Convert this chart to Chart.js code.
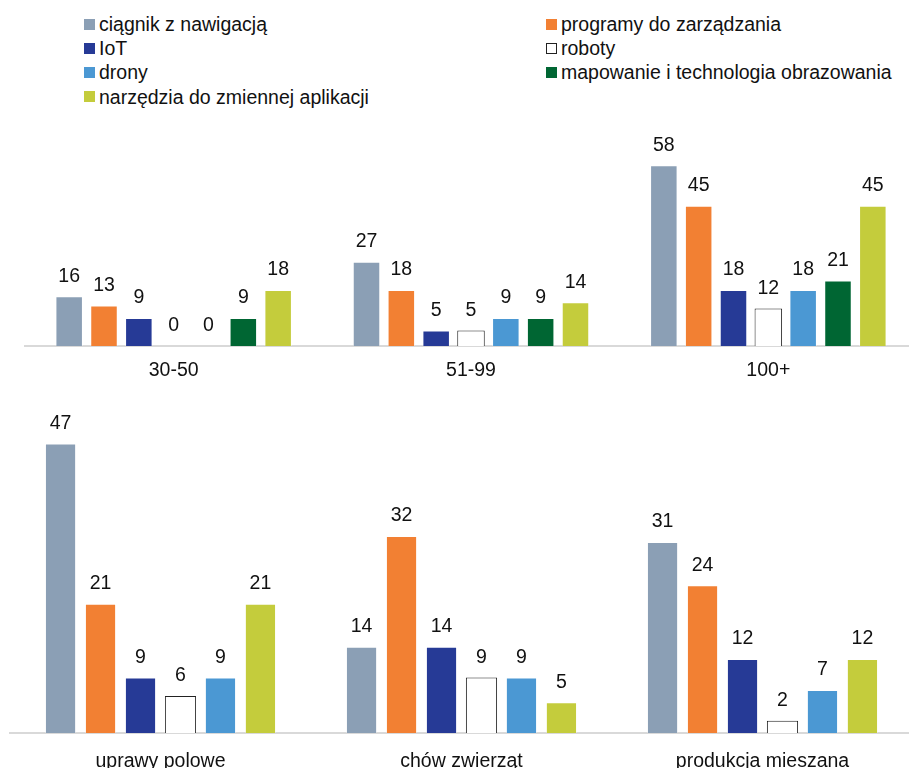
<!DOCTYPE html>
<html lang="pl">
<head>
  <meta charset="UTF-8">
  <title>Technologie w gospodarstwach</title>
  <script src="https://cdn.jsdelivr.net/npm/chart.js"></script>
  <style>
    body {
      margin: 0;
      background: #fff;
      overflow: hidden;
      font-family: 'Liberation Sans', Arial, sans-serif;
    }
    #legend { position: absolute; left: 0; top: 0; width: 909px; height: 110px; }
    .item {
      position: absolute;
      font-size: 19.5px;
      line-height: 22px;
      color: #111;
      white-space: nowrap;
      display: flex;
      align-items: center;
    }
    .box { width: 11px; height: 11px; margin-right: 4px; box-sizing: border-box; }
    #topChart { position: absolute; left: 0; top: 110px; }
    #bottomChart { position: absolute; left: 0; top: 390px; }
  </style>
</head>
<body>
  <div id="legend"></div>
  <canvas id="topChart" width="925" height="280"></canvas>
  <canvas id="bottomChart" width="920" height="378"></canvas>

  <script>
    // serie
    const seriesNames = ['ciągnik z nawigacją', 'programy do zarządzania', 'IoT', 'roboty', 'drony',
      'mapowanie i technologia obrazowania', 'narzędzia do zmiennej aplikacji'];
    const seriesColors = ['#8b9fb5', '#f28033', '#263a96', '#ffffff', '#4b98d3', '#006633', '#c4cc3c'];

    // górny wykres: wielkość gospodarstwa
    const sizeLabels = ['30-50', '51-99', '100+'];
    const sizeCiagnik = [16, 27, 58];
    const sizeProgramy = [13, 18, 45];
    const sizeIoT = [9, 5, 18];
    const sizeRoboty = [0, 5, 12];
    const sizeDrony = [0, 9, 18];
    const sizeMapowanie = [9, 9, 21];
    const sizeNarzedzia = [18, 14, 45];

    // dolny wykres: typ produkcji (bez mapowania)
    const typeLabels = ['uprawy polowe', 'chów zwierząt', 'produkcja mieszana'];
    const typeCiagnik = [47, 14, 31];
    const typeProgramy = [21, 32, 24];
    const typeIoT = [9, 14, 12];
    const typeRoboty = [6, 9, 2];
    const typeDrony = [9, 9, 7];
    const typeNarzedzia = [21, 5, 12];

    const FONT = "'Liberation Sans', Arial, sans-serif";
    Chart.defaults.font.family = FONT;
    Chart.defaults.color = '#111';

    // legenda w dwóch kolumnach
    const legend = document.getElementById('legend');
    seriesNames.forEach((name, i) => {
      const item = document.createElement('div');
      item.className = 'item';
      item.style.left = (i % 2 === 0 ? 84 : 546) + 'px';
      item.style.top = (13 + Math.floor(i / 2) * 24.2) + 'px';
      const box = document.createElement('span');
      box.className = 'box';
      box.style.background = seriesColors[i];
      if (i === 3) box.style.border = '1px solid #222';
      item.appendChild(box);
      item.appendChild(document.createTextNode(name));
      legend.appendChild(item);
    });

    // etykiety wartości nad słupkami
    const valueLabels = {
      id: 'valueLabels',
      afterDatasetsDraw(chart) {
        const ctx = chart.ctx;
        ctx.save();
        ctx.font = '19.5px ' + FONT;
        ctx.fillStyle = '#111';
        ctx.textAlign = 'center';
        ctx.textBaseline = 'middle';
        chart.data.datasets.forEach((ds, di) => {
          chart.getDatasetMeta(di).data.forEach((bar, j) => {
            ctx.fillText(ds.data[j], bar.x, bar.y - 20);
          });
        });
        ctx.restore();
      }
    };

    function makeDataset(idx, values, barPct, catPct) {
      return {
        label: seriesNames[idx],
        data: values,
        backgroundColor: seriesColors[idx],
        borderColor: idx === 3 ? '#222' : 'rgba(255,255,255,0.35)',
        borderWidth: 1,
        barPercentage: barPct,
        categoryPercentage: catPct
      };
    }

    function makeOptions(yMax, pad, axisHeight, tickPad) {
      return {
        responsive: false,
        animation: false,
        layout: { padding: pad },
        plugins: { legend: { display: false }, tooltip: { enabled: false } },
        scales: {
          x: {
            grid: { display: false, drawTicks: false },
            border: { color: '#d9d9d9', width: 2 },
            ticks: { color: '#111', font: { size: 19.5 }, padding: tickPad, maxRotation: 0 },
            afterFit: s => { s.height = axisHeight; }
          },
          y: { display: false, min: 0, max: yMax }
        }
      };
    }

    const sizeValues = [sizeCiagnik, sizeProgramy, sizeIoT, sizeRoboty, sizeDrony, sizeMapowanie, sizeNarzedzia];
    new Chart(document.getElementById('topChart'), {
      type: 'bar',
      data: {
        labels: sizeLabels,
        datasets: sizeValues.map((v, i) => makeDataset(i, v, 0.79, 0.82))
      },
      options: makeOptions(60, { top: 49, left: 25, right: 8, bottom: 0 }, 44, 13),
      plugins: [valueLabels]
    });

    const typeSeries = [0, 1, 2, 3, 4, 6];
    const typeValues = [typeCiagnik, typeProgramy, typeIoT, typeRoboty, typeDrony, typeNarzedzia];
    new Chart(document.getElementById('bottomChart'), {
      type: 'bar',
      data: {
        labels: typeLabels,
        datasets: typeValues.map((v, k) => makeDataset(typeSeries[k], v, 0.78, 0.797))
      },
      options: makeOptions(50, { top: 35, left: 10, right: 7, bottom: 0 }, 35, 17),
      plugins: [valueLabels]
    });
  </script>
</body>
</html>
